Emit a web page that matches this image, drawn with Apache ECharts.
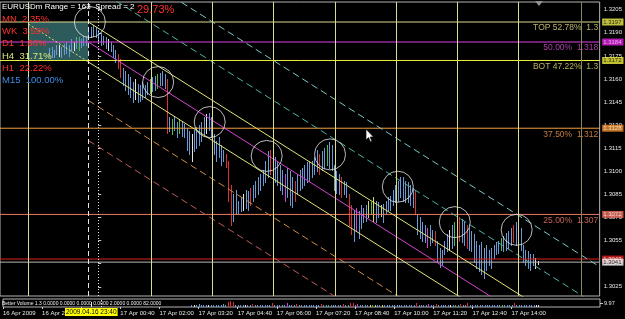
<!DOCTYPE html>
<html>
<head>
<meta charset="utf-8">
<title>EURUSDm M5</title>
<script src="https://cdn.jsdelivr.net/npm/echarts@6.0.0/dist/echarts.min.js"></script>
<style>
  html, body { margin: 0; padding: 0; background: #000; }
  #chart { width: 625px; height: 319px; }
</style>
</head>
<body>
<div id="chart"></div>
<script>
// ===== data =====
// EURUSDm M5 bars, time = minutes from 17 Apr 2009 00:00
const barStart = -100;
const barStep = 5;

const barHigh = [
  1.3180, 1.3181, 1.3179, 1.3182, 1.3182, 1.3181, 1.3183, 1.3184, 1.3182, 1.3186,
  1.3184, 1.3187, 1.3187, 1.3186, 1.3188, 1.3187, 1.3192, 1.3194, 1.3195, 1.3194,
  1.3192, 1.3190, 1.3188, 1.3187, 1.3186, 1.3184, 1.3182, 1.3179, 1.3176, 1.3173,
  1.3167, 1.3165, 1.3163, 1.3161, 1.3158, 1.3160, 1.3157, 1.3156, 1.3158, 1.3156,
  1.3158, 1.3160, 1.3161, 1.3162, 1.3163, 1.3164, 1.3165, 1.3163, 1.3160, 1.3135,
  1.3134, 1.3135, 1.3132, 1.3134, 1.3133, 1.3131, 1.3128, 1.3126, 1.3124, 1.3127,
  1.3129, 1.3130, 1.3132, 1.3135, 1.3137, 1.3138, 1.3135, 1.3124, 1.3120, 1.3122,
  1.3117, 1.3114, 1.3111, 1.3107, 1.3091, 1.3085, 1.3088, 1.3081, 1.3083, 1.3085,
  1.3088, 1.3087, 1.3089, 1.3091, 1.3094, 1.3096, 1.3098, 1.3101, 1.3107, 1.3113,
  1.3114, 1.3111, 1.3109, 1.3106, 1.3104, 1.3101, 1.3098, 1.3102, 1.3100, 1.3096,
  1.3094, 1.3098, 1.3101, 1.3102, 1.3104, 1.3106, 1.3107, 1.3107, 1.3109, 1.3114,
  1.3111, 1.3113, 1.3115, 1.3117, 1.3119, 1.3117, 1.3104, 1.3100, 1.3098, 1.3096,
  1.3094, 1.3093, 1.3085, 1.3078, 1.3075, 1.3076, 1.3074, 1.3078, 1.3076, 1.3078,
  1.3081, 1.3080, 1.3083, 1.3081, 1.3080, 1.3078, 1.3079, 1.3081, 1.3083, 1.3084,
  1.3088, 1.3091, 1.3094, 1.3096, 1.3096, 1.3094, 1.3093, 1.3091, 1.3089, 1.3088,
  1.3072, 1.3070, 1.3067, 1.3065, 1.3063, 1.3065, 1.3062, 1.3061, 1.3055, 1.3050,
  1.3049, 1.3055, 1.3059, 1.3062, 1.3065, 1.3067, 1.3070, 1.3070, 1.3069, 1.3067,
  1.3065, 1.3063, 1.3061, 1.3059, 1.3055, 1.3052, 1.3054, 1.3050, 1.3052, 1.3049,
  1.3050, 1.3052, 1.3054, 1.3055, 1.3057, 1.3058, 1.3060, 1.3061, 1.3063, 1.3065,
  1.3067, 1.3066, 1.3063, 1.3052, 1.3049, 1.3048, 1.3046, 1.3046, 1.3044, 1.3042
];
const barLow = [
  1.3175, 1.3174, 1.3174, 1.3176, 1.3175, 1.3174, 1.3176, 1.3177, 1.3175, 1.3178,
  1.3179, 1.3180, 1.3179, 1.3181, 1.3182, 1.3182, 1.3186, 1.3187, 1.3188, 1.3187,
  1.3184, 1.3182, 1.3183, 1.3180, 1.3179, 1.3178, 1.3174, 1.3171, 1.3167, 1.3161,
  1.3156, 1.3153, 1.3150, 1.3148, 1.3145, 1.3147, 1.3145, 1.3146, 1.3147, 1.3148,
  1.3150, 1.3151, 1.3152, 1.3153, 1.3154, 1.3156, 1.3156, 1.3154, 1.3125, 1.3126,
  1.3124, 1.3127, 1.3122, 1.3125, 1.3123, 1.3122, 1.3114, 1.3111, 1.3107, 1.3113,
  1.3115, 1.3117, 1.3120, 1.3124, 1.3125, 1.3127, 1.3122, 1.3111, 1.3107, 1.3109,
  1.3104, 1.3107, 1.3103, 1.3081, 1.3065, 1.3068, 1.3072, 1.3072, 1.3074, 1.3075,
  1.3076, 1.3075, 1.3078, 1.3081, 1.3083, 1.3085, 1.3088, 1.3091, 1.3093, 1.3096,
  1.3098, 1.3094, 1.3093, 1.3091, 1.3088, 1.3085, 1.3081, 1.3083, 1.3078, 1.3077,
  1.3081, 1.3085, 1.3088, 1.3089, 1.3091, 1.3093, 1.3094, 1.3096, 1.3098, 1.3100,
  1.3098, 1.3101, 1.3102, 1.3104, 1.3102, 1.3101, 1.3088, 1.3086, 1.3085, 1.3083,
  1.3085, 1.3083, 1.3065, 1.3059, 1.3055, 1.3061, 1.3057, 1.3063, 1.3067, 1.3068,
  1.3070, 1.3072, 1.3068, 1.3067, 1.3070, 1.3071, 1.3067, 1.3073, 1.3074, 1.3075,
  1.3078, 1.3080, 1.3081, 1.3083, 1.3081, 1.3080, 1.3080, 1.3078, 1.3077, 1.3072,
  1.3059, 1.3057, 1.3055, 1.3054, 1.3051, 1.3052, 1.3054, 1.3052, 1.3041, 1.3038,
  1.3039, 1.3046, 1.3048, 1.3049, 1.3050, 1.3052, 1.3054, 1.3055, 1.3054, 1.3052,
  1.3050, 1.3049, 1.3048, 1.3041, 1.3037, 1.3035, 1.3033, 1.3031, 1.3036, 1.3039,
  1.3037, 1.3044, 1.3046, 1.3047, 1.3049, 1.3048, 1.3049, 1.3050, 1.3052, 1.3054,
  1.3052, 1.3051, 1.3049, 1.3041, 1.3039, 1.3037, 1.3036, 1.3039, 1.3037, 1.3040
];
// Better Volume colour code per bar: 0 normal, 1 climax, 2 low, 3 climax low, 4 churn, 5 climax churn
const barColor = [
  0,0,0,0,3,0,0,0,0,0, 3,0,2,0,0,0,0,0,0,0, 0,0,0,0,3,0,0,0,1,1, 0,0,0,0,0,3,0,0,0,0,
  0,2,0,0,2,0,0,0,1,0, 2,0,0,2,0,0,0,0,3,0, 0,0,0,0,3,0,0,0,0,0, 0,0,1,1,1,0,0,0,0,3,
  0,0,1,0,0,0,0,0,0,0, 1,0,0,0,0,0,4,0,0,0, 1,0,0,0,0,0,0,0,0,0, 1,0,0,2,0,0,0,0,0,1,
  0,0,1,1,0,4,0,0,0,0, 5,2,5,0,0,5,0,0,0,0, 0,0,0,0,0,0,0,0,0,1, 0,0,0,0,4,0,0,1,0,0,
  0,0,0,3,0,2,0,1,0,0, 1,0,0,0,0,0,0,0,0,0, 0,0,0,0,2,0,0,0,0,1, 0,0,0,0,0,0,0,0,3,3
];

// Better Volume histogram, first visible bar is bar 57
const volFirstBar = 57;
const volume = [
  3,2,3,4,3,2,3,3,2,3, 3,2,3,4,3,6,8,6,3,2, 2,3,2,3,3,4,3,2,3,2, 3,3,2,5,3,2,2,3,2,5,
  3,2,3,4,2,2,3,2,2,3, 2,3,2,4,2,3,2,3,2,3, 2,3,4,2,3,5,5,3,4,2, 3,2,3,2,3,2,2,3,2,3,
  2,3,2,3,2,3,2,3,2,3, 2,3,5,3,2,3,2,4,3,2, 4,3,2,3,2,3,2,3,2,3, 4,2,3,5,3,2,3,2,3,2,
  3,2,3,2,3,2,2,3,2,3, 2,3,5,2,3,2,3,2,3,2, 3,2,3
];
const volMaxLabel = '9.97';

const priceTicks = [1.3025, 1.3040, 1.3055, 1.3070, 1.3085, 1.3100, 1.3115, 1.3130, 1.3145, 1.3160, 1.3175, 1.3190, 1.3205];
const timeTicks = [-200, -120, -40, 40, 120, 200, 280, 360, 440, 520, 600, 680, 760, 840];
const timeLabels = ['16 Apr 2009', '16 Apr 22:00', '16 Apr 23:20', '17 Apr 00:40', '17 Apr 02:00', '17 Apr 03:20',
  '17 Apr 04:40', '17 Apr 06:00', '17 Apr 07:20', '17 Apr 08:40', '17 Apr 10:00', '17 Apr 11:20', '17 Apr 12:40', '17 Apr 14:00'];

// horizontal levels
const levelPrices = [1.3197, 1.3184, 1.3172, 1.3128, 1.3072];
const levelText = ['TOP 52.78%  1.3', '50.00%  1.318', 'BOT 47.22%  1.3', '37.50%  1.312', '25.00%  1.307'];
const askPrice = 1.3043;
const bidPrice = 1.3041;

// vertical lines
const vlineTimes = [-142, 107, 232, 356, 482, 607, 731, 855];
const shiftLineTime = 983;
const crossTime = -20;
const daySepTime = 0;

// shaded box
const boxFrom = [-142, 1.3197];
const boxTo = [-20, 1.3172];

// regression channel
const chanStart = [-20, 1.3184];
const chanEnd = [1021, 1.2974];
const chanOffsets = [0.0064, 0.0038, 0.0013, 0, -0.0013, -0.0038, -0.0064];
const chanBackTime = -142;

// circled swing highs
const circleTimes = [-17, 122, 227, 343, 472, 610, 726, 852];
const circlePrices = [1.3197, 1.3158, 1.3132, 1.3110, 1.3111, 1.3090, 1.3067, 1.3062];

// info block
const tfNames = ['MN', 'WK', 'D1', 'H4', 'H1', 'M15'];
const tfValues = ['2.35%', '3.59%', '1.88%', '31.71%', '22.22%', '100.00%'];

// ===== styles =====
const FONT = '"Liberation Sans", Arial, sans-serif';
const X_MIN = -200, X_MAX = 1021;
const barPalette = ['#6a9ad6', '#d83232', '#4cbc4c', '#e2e2e2', '#cc44cc', '#d6d660'];
const levelColors = ['#dcdc8c', '#e040e0', '#f0f040', '#f0a040', '#f07a6a'];
const levelTextColors = ['#e6de84', '#d650d6', '#e6dc70', '#f49a50', '#f47c6a'];
const boxBg = ['#f0f050', '#e020e0', '#f0f040', '#f09030', '#f07060', '#e02020', '#f4f4f4'];
const boxFg = ['#000', '#ffc8ff', '#000', '#fff0d0', '#ffe8e0', '#fff', '#000'];
const quoteColors = ['#e02020', '#b8b8b8'];
const chanColors = ['#7cc8c8', '#4fb2a6', '#e4e47a', '#d444d4', '#e4e47a', '#d08a44', '#c25a5a'];
const chanDash = [[7, 4], [7, 4], 'solid', 'solid', 'solid', [7, 4], [7, 4]];
const tfColors = ['#ff3030', '#ff3030', '#ff3030', '#d8e878', '#ff3030', '#3c8ce8'];

const chart = echarts.init(document.getElementById('chart'));

const bars = barHigh.map((h, i) => [barStart + i * barStep, h, barLow[i], barColor[i]]);
const vols = volume.map((v, k) => [barStart + (volFirstBar + k) * barStep, v, barColor[volFirstBar + k]]);
const chanSlope = (chanEnd[1] - chanStart[1]) / (chanEnd[0] - chanStart[0]);

function segment(data, color, type, z) {
  return {
    type: 'line', xAxisIndex: 0, yAxisIndex: 0, z: z, silent: true,
    symbol: 'none', showSymbol: false, animation: false,
    data: data,
    lineStyle: { color: color, width: 1, type: type }
  };
}

// channel lines
const chanSeries = chanOffsets.map((o, i) =>
  segment([[chanStart[0], chanStart[1] + o], [chanEnd[0], chanEnd[1] + o]], chanColors[i], chanDash[i], 3));
// lower channel line extended back as dots
chanSeries.push(segment([
  [chanBackTime, chanStart[1] + chanOffsets[4] + (chanBackTime - chanStart[0]) * chanSlope],
  [chanStart[0], chanStart[1] + chanOffsets[4]]
], chanColors[4], [2, 2], 3));

// horizontal levels + ask/bid lines
const levelSeries = levelPrices.map((p, i) => segment([[X_MIN, p], [X_MAX, p]], levelColors[i], 'solid', 3))
  .concat([askPrice, bidPrice].map((p, i) => segment([[X_MIN, p], [X_MAX, p]], quoteColors[i], 'solid', 3)));

const boxPrices = levelPrices.concat([askPrice, bidPrice]);

const tfTexts = tfNames.map((n, i) => ({
  type: 'text', x: 2, y: 19 + i * 12.3, z: 100, silent: true,
  style: { text: n + '  ' + tfValues[i], fill: tfColors[i], font: '9.5px ' + FONT, verticalAlign: 'middle', textVerticalAlign: 'middle' }
}));

const option = {
  backgroundColor: '#000',
  animation: false,
  textStyle: { fontFamily: FONT },
  grid: [
    { left: 0, top: 2, width: 600, height: 294, show: true, borderColor: '#b4b4b4', borderWidth: 1, backgroundColor: 'transparent' },
    { left: 0, top: 299, width: 600, height: 8, show: true, borderColor: '#b4b4b4', borderWidth: 1, backgroundColor: 'transparent' }
  ],
  xAxis: [
    { gridIndex: 0, type: 'value', min: X_MIN, max: X_MAX, show: false },
    {
      gridIndex: 1, type: 'value', min: X_MIN, max: X_MAX, position: 'bottom',
      axisLine: { show: false },
      splitLine: { show: false },
      axisTick: { show: true, length: 2, lineStyle: { color: '#cccccc' }, customValues: timeTicks },
      axisLabel: {
        customValues: timeTicks, align: 'left', margin: 3, fontSize: 6, color: '#e8e8e8',
        formatter: v => timeLabels[timeTicks.indexOf(v)] || ''
      }
    }
  ],
  yAxis: [
    {
      gridIndex: 0, type: 'value', position: 'right', min: 1.3019, max: 1.3210,
      axisLine: { show: false },
      splitLine: { show: false },
      axisTick: { show: true, length: 3, lineStyle: { color: '#c8c8c8' }, customValues: priceTicks },
      axisLabel: { customValues: priceTicks, margin: 4, fontSize: 6, color: '#e8e8e8', formatter: v => v.toFixed(4) }
    },
    { gridIndex: 1, type: 'value', min: 0, max: 10, show: false }
  ],
  series: [
    // shaded box behind bars
    {
      type: 'line', xAxisIndex: 0, yAxisIndex: 0, data: [], z: 1, silent: true,
      markArea: {
        silent: true,
        itemStyle: { color: '#2d5a5a' },
        data: [[{ xAxis: boxFrom[0], yAxis: boxFrom[1] }, { xAxis: boxTo[0], yAxis: boxTo[1] }]]
      }
    },
    // price bars
    {
      type: 'custom', xAxisIndex: 0, yAxisIndex: 0, z: 2, silent: true,
      data: bars,
      encode: { x: 0, y: [1, 2] },
      renderItem: (params, api) => {
        const top = api.coord([api.value(0), api.value(1)]);
        const bot = api.coord([api.value(0), api.value(2)]);
        const px = Math.round(top[0]) + 0.5;
        return {
          type: 'line',
          shape: { x1: px, y1: Math.round(top[1]), x2: px, y2: Math.round(bot[1]) + 1 },
          style: { stroke: barPalette[api.value(3)], lineWidth: 1 }
        };
      }
    },
    // vertical lines
    {
      type: 'line', xAxisIndex: 0, yAxisIndex: 0, data: [], z: 3, silent: true,
      markLine: {
        silent: true, symbol: ['none', 'none'], label: { show: false },
        data: vlineTimes.map(t => ({ xAxis: t, lineStyle: { color: '#dcdc90', width: 1, type: 'solid' } }))
          .concat([
            { xAxis: shiftLineTime, lineStyle: { color: '#8a8660', width: 1, type: 'solid' } },
            { xAxis: crossTime, lineStyle: { color: '#e6e6e6', width: 1, type: [5, 3] } },
            { xAxis: daySepTime, lineStyle: { color: '#e6e6e6', width: 1, type: [1, 2] } }
          ])
      }
    },
    ...levelSeries,
    ...chanSeries,
    // level texts inside the chart, right aligned at the edge, under the line
    {
      type: 'scatter', xAxisIndex: 0, yAxisIndex: 0, z: 5, silent: true, clip: false,
      symbolSize: 1, itemStyle: { color: 'rgba(0,0,0,0)' },
      data: levelPrices.map((p, i) => ({
        value: [X_MAX, p],
        label: {
          show: true, position: [-1, 2], align: 'right', verticalAlign: 'top',
          formatter: levelText[i], color: levelTextColors[i], fontSize: 8.5, fontFamily: FONT
        }
      }))
    },
    // price boxes on the axis
    {
      type: 'scatter', xAxisIndex: 0, yAxisIndex: 0, z: 6, silent: true, clip: false,
      symbolSize: 1, itemStyle: { color: 'rgba(0,0,0,0)' },
      data: boxPrices.map((p, i) => ({
        value: [X_MAX, p],
        label: {
          show: true, position: [3, 0.5], align: 'left', verticalAlign: 'middle',
          formatter: p.toFixed(4), color: boxFg[i], backgroundColor: boxBg[i],
          padding: [1, 2, 0, 1], fontSize: 6, fontFamily: FONT
        }
      }))
    },
    // circles
    {
      type: 'scatter', xAxisIndex: 0, yAxisIndex: 0, z: 4, silent: true,
      symbol: 'circle', symbolSize: 31,
      data: circleTimes.map((t, i) => [t, circlePrices[i]]),
      itemStyle: { color: 'rgba(0,0,0,0)', borderColor: '#e6e6e6', borderWidth: 1 }
    },
    // Better Volume histogram
    {
      type: 'custom', xAxisIndex: 1, yAxisIndex: 1, z: 2, silent: true,
      data: vols,
      encode: { x: 0, y: 1 },
      renderItem: (params, api) => {
        const top = api.coord([api.value(0), api.value(1)]);
        const bot = api.coord([api.value(0), 0]);
        const px = Math.round(top[0]) + 0.5;
        return {
          type: 'line',
          shape: { x1: px, y1: Math.round(top[1]), x2: px, y2: Math.round(bot[1]) },
          style: { stroke: barPalette[api.value(2)], lineWidth: 1 }
        };
      },
      markLine: {
        silent: true, symbol: ['none', 'none'], label: { show: false },
        data: [
          { xAxis: crossTime, lineStyle: { color: '#e6e6e6', width: 1, type: [5, 3] } },
          { xAxis: daySepTime, lineStyle: { color: '#e6e6e6', width: 1, type: [1, 2] } }
        ]
      }
    }
  ],
  graphic: [
    {
      type: 'text', x: 2, y: 7, z: 100, silent: true,
      style: { text: 'EURUSDm Range = 163  Spread = 2', fill: '#ffffff', font: '8px ' + FONT, verticalAlign: 'middle', textVerticalAlign: 'middle' }
    },
    {
      type: 'text', x: 137, y: 10, z: 100, silent: true,
      style: { text: '29.73%', fill: '#ff3030', font: '11px ' + FONT, verticalAlign: 'middle', textVerticalAlign: 'middle' }
    },
    ...tfTexts,
    {
      type: 'text', x: 2, y: 303.5, z: 100, silent: true,
      style: {
        text: 'Better Volume 1.3 0.0000 0.0000 0.0000 0.0000 2.0000 0.0000 82.0000',
        fill: '#f0f0f0', font: '5px ' + FONT, verticalAlign: 'middle', textVerticalAlign: 'middle'
      }
    },
    {
      type: 'line', z: 100, silent: true,
      shape: { x1: 600, y1: 303.5, x2: 603, y2: 303.5 },
      style: { stroke: '#c8c8c8', lineWidth: 1 }
    },
    {
      type: 'text', x: 604, y: 303.5, z: 100, silent: true,
      style: { text: volMaxLabel, fill: '#e8e8e8', font: '5.5px ' + FONT, verticalAlign: 'middle', textVerticalAlign: 'middle' }
    },
    {
      type: 'text', x: 65, y: 308, z: 100, silent: true,
      style: {
        text: '2009.04.16 23:40', fill: '#000', backgroundColor: '#ffff00', padding: [1, 1, 0, 1],
        font: '6.5px ' + FONT
      }
    },
    {
      type: 'polygon', z: 100, silent: true,
      shape: { points: [[535, 1], [543, 1], [539, 6]] },
      style: { fill: '#909090' }
    },
    {
      type: 'polygon', x: 366, y: 129, z: 100, silent: true,
      shape: { points: [[0, 0], [0, 11], [2.5, 8.5], [4.5, 13], [6, 12.3], [4.2, 8], [7.5, 8]] },
      style: { fill: '#ffffff', stroke: '#000000', lineWidth: 0.7 }
    }
  ]
};

chart.setOption(option);
</script>
</body>
</html>
